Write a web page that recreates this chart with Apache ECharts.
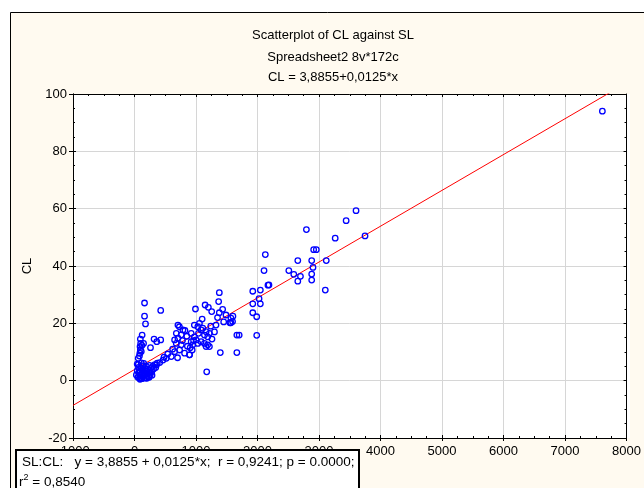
<!DOCTYPE html>
<html>
<head>
<meta charset="utf-8">
<script src="https://cdn.jsdelivr.net/npm/echarts@6/dist/echarts.min.js"></script>
<style>html,body{margin:0;padding:0;background:#fff}#c{width:644px;height:488px}</style>
</head>
<body>
<div id="c"></div>
<script>
// ---- data ----
const slValues = [
  30,45,55,65,70,80,85,95,100,105,115,120,125,135,140,150,155,165,170,180,190,195,205,215,225,235,245,255,265,280,295,310,330,345,370,60,110,90,200,150,240,285,130,175,
  44,60,80,87,110,95,90,120,100,147,95,124,179,163,163,
  260,318,362,426,426,357,410,464,517,598,480,540,
  652,652,679,706,706,733,760,787,814,894,922,730,680,620,860,905,960,850,780,820,700,760,
  973,1029,1056,1083,1110,1164,1137,1190,1218,973,1002,922,948,1029,1083,1137,1190,1218,938,895,1164,1040,1260,
  991,1148,1201,1255,1379,1368,1379,1433,1487,1568,1594,1551,1325,1664,1395,1664,1174,1300,1450,1600,1567,1702,
  1923,2046,2170,2025,1923,2046,1923,1987,1987,2186,2106,2127,
  2509,2590,2698,2655,2655,2881,3118,2902,2881,2881,3102,2913,2956,2795,3263,3441,3602,3748,7607,
  1100,1240,1350
];
const clValues = [
  2.0,3.5,1.2,4.6,2.8,0.9,1.9,3.2,4.4,1.1,2.5,0.7,3.8,1.6,5.2,2.9,0.9,4.1,1.8,3.3,1.0,5.0,2.4,4.0,1.5,3.0,5.3,2.1,4.3,3.1,5.0,4.1,5.6,4.6,6.1,5.6,6.2,0.5,0.8,6.0,1.2,1.9,2.2,2.6,
  5.8,7.8,8.6,9.6,10.2,10.7,11.9,12.3,13.0,13.0,14.5,15.9,19.8,22.5,27.1,
  11.5,14.5,13.6,14.2,24.5,5.5,6.3,7.2,7.8,8.4,8.2,9.3,
  10.1,14.2,13.0,14.8,19.4,10.7,12.5,17.7,9.6,9.0,16.5,18.8,16.5,11.0,12.0,11.5,14.0,15.5,14.0,17.5,8.0,16.0,
  19.4,18.8,20.0,17.7,18.3,17.1,15.9,15.3,16.5,15.3,14.2,13.6,12.5,13.0,13.6,13.0,12.5,11.9,10.7,9.0,11.9,16.5,14.5,
  25.0,26.4,25.6,24.1,30.7,27.6,23.7,24.9,22.9,21.8,20.6,20.2,19.4,15.9,9.8,9.8,3.1,17.0,20.5,22.5,20.2,15.9,
  31.2,31.6,33.3,28.6,26.8,26.8,23.7,22.3,15.8,33.4,38.4,44.0,
  38.4,37.1,36.4,34.7,41.9,41.9,41.9,39.5,37.2,35.1,31.6,45.7,45.7,52.7,49.7,55.8,59.3,50.5,94.0,
  21.5,19.0,22.0
];
const intercept = 3.8855;
const slope = 0.0125;
const xRange = [-1000, 8000];
const yRange = [-20, 100];
const xTickInterval = 1000;
const yTickInterval = 20;
const titleLines = ['Scatterplot of CL against SL', 'Spreadsheet2 8v*172c', 'CL = 3,8855+0,0125*x'];
const legendLine1 = 'SL:CL:   y = 3,8855 + 0,0125*x;  r = 0,9241; p = 0.0000;';
const yName = 'CL';

// ---- build ----
const points = slValues.map((x, i) => [x, clValues[i]]);
const fitLine = xRange.map(x => [x, intercept + slope * x]);
const FONT = '"Liberation Sans", Arial, sans-serif';
const plainNum = v => String(v);

const chart = echarts.init(document.getElementById('c'), null, {renderer: 'canvas'});

function baseAxis(extra) {
  return Object.assign({
    type: 'value',
    axisLine: {show: true, onZero: false, lineStyle: {color: '#000', width: 1}},
    splitLine: {show: false},
    axisLabel: {show: false},
    axisTick: {show: false},
    minorTick: {show: false},
    minorSplitLine: {show: false}
  }, extra);
}
const xCommon = {min: xRange[0], max: xRange[1], interval: xTickInterval};
const yCommon = {min: yRange[0], max: yRange[1], interval: yTickInterval};

const G = {left: 73, right: 14, top: 94, bottom: 50};

chart.setOption({
  backgroundColor: '#ffffff',
  animation: false,
  textStyle: {fontFamily: FONT},
  grid: {left: G.left, right: G.right, top: G.top, bottom: G.bottom, show: false, containLabel: false},
  xAxis: [
    baseAxis(Object.assign({}, xCommon, {
      position: 'bottom',
      splitLine: {show: true, lineStyle: {color: '#d6d6d6', width: 1}},
      axisLabel: {show: true, color: '#000', fontSize: 13, fontFamily: FONT, margin: 7, formatter: plainNum},
      axisTick: {show: true, inside: false, length: 3, lineStyle: {color: '#000'}}
    })),
    baseAxis(Object.assign({}, xCommon, {
      position: 'top',
      axisTick: {show: true, inside: true, length: 3, lineStyle: {color: '#000'}},
      minorTick: {show: true, splitNumber: 4, length: 2, lineStyle: {color: '#000'}}
    })),
    baseAxis(Object.assign({}, xCommon, {
      position: 'bottom',
      axisTick: {show: true, inside: true, length: 3, lineStyle: {color: '#000'}},
      minorTick: {show: true, splitNumber: 4, length: 2, lineStyle: {color: '#000'}}
    }))
  ],
  yAxis: [
    baseAxis(Object.assign({}, yCommon, {
      position: 'left',
      splitLine: {show: true, lineStyle: {color: '#d6d6d6', width: 1}},
      axisLabel: {show: true, color: '#000', fontSize: 13, fontFamily: FONT, margin: 6, formatter: plainNum},
      axisTick: {show: true, inside: false, length: 4, lineStyle: {color: '#000'}},
      name: yName, nameLocation: 'middle', nameGap: 38, nameRotate: 90,
      nameTextStyle: {color: '#000', fontSize: 13, fontFamily: FONT}
    })),
    baseAxis(Object.assign({}, yCommon, {
      position: 'right',
      axisTick: {show: true, inside: true, length: 3, lineStyle: {color: '#000'}},
      minorTick: {show: true, splitNumber: 4, length: 2, lineStyle: {color: '#000'}}
    })),
    baseAxis(Object.assign({}, yCommon, {
      position: 'left',
      axisTick: {show: true, inside: true, length: 3, lineStyle: {color: '#000'}},
      minorTick: {show: true, splitNumber: 4, length: 2, lineStyle: {color: '#000'}}
    }))
  ],
  series: [
    {
      type: 'line',
      data: fitLine,
      xAxisIndex: 0, yAxisIndex: 0,
      showSymbol: false, symbol: 'none',
      clip: true,
      lineStyle: {color: '#ff0000', width: 1},
      silent: true, z: 3
    },
    {
      type: 'scatter',
      data: points,
      xAxisIndex: 0, yAxisIndex: 0,
      symbol: 'circle',
      symbolSize: 5.5,
      itemStyle: {color: 'rgba(0,0,0,0)', borderColor: '#0000ff', borderWidth: 1.3, opacity: 1},
      clip: true,
      z: 4
    }
  ],
  graphic: [
    {type: 'rect', z: -10, shape: {x: 10.5, y: 12.5, width: 700, height: 600}, style: {fill: '#fffaf0', stroke: '#000', lineWidth: 1}},
    {type: 'rect', z: -9, shape: {x: G.left, y: G.top, width: 644 - G.left - G.right, height: 488 - G.top - G.bottom}, style: {fill: '#ffffff'}},
    {type: 'text', z: 10, x: 333, y: 35, style: {text: titleLines[0], fill: '#000', font: '13px ' + FONT, textAlign: 'center', textVerticalAlign: 'middle'}},
    {type: 'text', z: 10, x: 333, y: 57, style: {text: titleLines[1], fill: '#000', font: '13px ' + FONT, textAlign: 'center', textVerticalAlign: 'middle'}},
    {type: 'text', z: 10, x: 333, y: 77, style: {text: titleLines[2], fill: '#000', font: '13px ' + FONT, textAlign: 'center', textVerticalAlign: 'middle'}},
    {type: 'rect', z: 100, shape: {x: 16, y: 450, width: 343, height: 60}, style: {fill: '#ffffff', stroke: '#000', lineWidth: 2}},
    {type: 'text', z: 101, x: 22, y: 462, style: {text: legendLine1, fill: '#000', font: '13.5px ' + FONT, textAlign: 'left', textVerticalAlign: 'middle'}},
    {type: 'text', z: 101, x: 19, y: 482, style: {rich: {n: {fontSize: 13.5, fontFamily: FONT, fill: '#000'}, s: {fontSize: 9, fontFamily: FONT, fill: '#000', padding: [0,0,8,0]}}, text: '{n|r}{s|2}{n| = 0,8540}', textAlign: 'left', textVerticalAlign: 'middle'}}
  ]
});
</script>
</body>
</html>
